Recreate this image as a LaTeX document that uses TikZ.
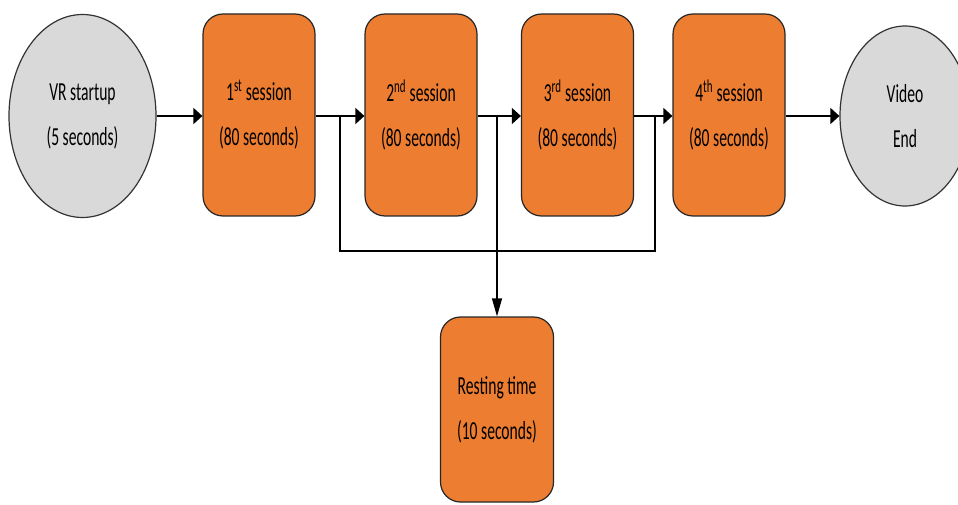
\documentclass[tikz,border=0pt]{standalone}
\usepackage{fontspec}
\setmainfont{Carlito}[FakeStretch=0.6]
\usepackage{xcolor}
\usetikzlibrary{shapes.geometric,arrows.meta}
\definecolor{sessorange}{HTML}{ED7D31}
\definecolor{endgray}{HTML}{D9D9D9}

\begin{document}
\begin{tikzpicture}[x=1pt,y=1pt,
    every node/.style={font=\fontsize{26}{45}\selectfont,align=center},
    roundnode/.style={ellipse,draw=black!80,line width=1.2pt,fill=endgray,inner sep=0pt},
    sessbox/.style={rectangle,rounded corners=20pt,draw=black!85,line width=1.2pt,fill=sessorange,
        minimum width=112pt,minimum height=202pt,inner sep=0pt},
    flowarrow/.style={line width=1.5pt,-{Triangle[length=9pt,width=16pt]}},
    droparrow/.style={line width=1.2pt,-{Triangle[length=18pt,width=10pt]}},
    backline/.style={line width=1.2pt}]
\useasboundingbox (0,0) rectangle (958,504);
\clip (0,0) rectangle (958,504);

    \node[roundnode,minimum width=147pt,minimum height=203pt] (start) at (82.5,388) {VR startup\\(5 seconds)};
    \node[sessbox] (s1) at (259,389) {1\textsuperscript{st} session\\(80 seconds)};
    \node[sessbox] (s2) at (421,389) {2\textsuperscript{nd} session\\(80 seconds)};
    \node[sessbox] (s3) at (577.5,389) {3\textsuperscript{rd} session\\(80 seconds)};
    \node[sessbox] (s4) at (729,389) {4\textsuperscript{th} session\\(80 seconds)};
    \node[roundnode,minimum width=130pt,minimum height=180pt] (end) at (905,388) {Video\\End};
    \node[sessbox,minimum width=113pt,minimum height=185pt] (rest) at (497,94.5) {Resting time\\(10 seconds)};

    % split points on the main line
    \coordinate (split1) at (340,388);
    \coordinate (split2) at (497,388);
    \coordinate (merge) at (655,388);

    \draw[flowarrow] (start) -- (s1.west |- start);
    \draw[flowarrow] (s1.east |- start) -- (s2.west |- start);
    \draw[flowarrow] (s2.east |- start) -- (s3.west |- start);
    \draw[flowarrow] (s3.east |- start) -- (s4.west |- start);
    \draw[flowarrow] (s4.east |- start) -- (end);

    \draw[backline] (split1) -- ++(0,-135) -| (merge);
    \draw[droparrow] (split2) -- (rest);
\end{tikzpicture}
\end{document}
